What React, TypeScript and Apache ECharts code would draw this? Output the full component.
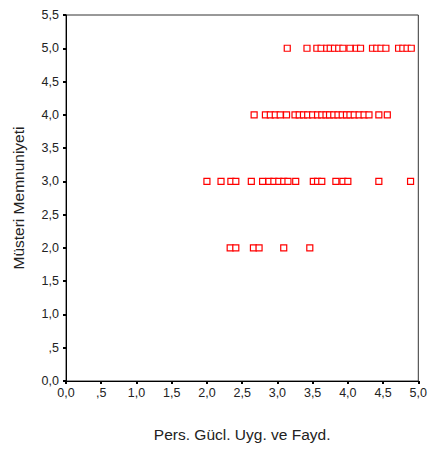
import React, { useEffect, useRef } from "react";
import * as echarts from "echarts";

// Pers. Gücl. Uyg. ve Fayd. values for each Müsteri Memnuniyeti level
const x5 = [3.14, 3.42, 3.56, 3.62, 3.70, 3.75, 3.81, 3.87, 3.93, 4.03, 4.12, 4.18, 4.35, 4.41, 4.47, 4.54, 4.72, 4.78, 4.84, 4.90];
const x4 = [2.67, 2.83, 2.90, 2.97, 3.04, 3.13, 3.25, 3.31, 3.37, 3.43, 3.50, 3.57, 3.63, 3.69, 3.74, 3.80, 3.86, 3.92, 3.98, 4.03, 4.09, 4.16, 4.23, 4.30, 4.44, 4.56];
const x3 = [2.00, 2.20, 2.34, 2.41, 2.63, 2.79, 2.88, 2.95, 3.02, 3.09, 3.15, 3.26, 3.51, 3.57, 3.63, 3.83, 3.93, 4.00, 4.44, 4.89];
const x2 = [2.33, 2.41, 2.66, 2.74, 3.09, 3.46];
const yLevels = [5, 4, 3, 2];
const xGroups = [x5, x4, x3, x2];

const xTitle = "Pers. Gücl. Uyg. ve Fayd.";
const yTitle = "Müsteri Memnuniyeti";

const fmt = (v: number) => {
  const s = v.toFixed(1).replace(".", ",");
  return s === "0,5" ? ",5" : s;
};

export default function App() {
  const ref = useRef<HTMLDivElement>(null);
  useEffect(() => {
    document.body.style.margin = "0";
    const chart = echarts.init(ref.current!, null, { renderer: "svg" });
    const data: number[][] = [];
    xGroups.forEach((g, i) => g.forEach((x) => data.push([x, yLevels[i]])));
    const font = "'Liberation Sans', Arial, sans-serif";
    chart.setOption({
      animation: false,
      backgroundColor: "#ffffff",
      grid: {
        left: 66,
        right: 6,
        top: 15,
        bottom: 70,
        show: true,
        borderColor: "#333",
        borderWidth: 1,
      },
      xAxis: {
        type: "value",
        min: 0,
        max: 5,
        interval: 0.5,
        name: xTitle,
        nameLocation: "middle",
        nameGap: 45,
        nameTextStyle: { fontFamily: font, fontSize: 15.5, color: "#222" },
        axisLine: { show: true, lineStyle: { color: "#000", width: 1 } },
        axisTick: { show: true, length: 3, lineStyle: { color: "#000", width: 2 } },
        axisLabel: { formatter: fmt, fontFamily: font, fontSize: 12.5, color: "#222", margin: 5 },
        splitLine: { show: false },
      },
      yAxis: {
        type: "value",
        min: 0,
        max: 5.5,
        interval: 0.5,
        name: yTitle,
        nameLocation: "middle",
        nameGap: 40,
        nameTextStyle: { fontFamily: font, fontSize: 15.5, color: "#222" },
        axisLine: { show: true, lineStyle: { color: "#000", width: 1 } },
        axisTick: { show: true, length: 3, lineStyle: { color: "#000", width: 2 } },
        axisLabel: { formatter: fmt, fontFamily: font, fontSize: 12.5, color: "#222", margin: 7 },
        splitLine: { show: false },
      },
      series: [
        {
          type: "scatter",
          data,
          symbol: "rect",
          symbolSize: 6,
          itemStyle: { color: "#ffffff", borderColor: "#ff0000", borderWidth: 1.2, opacity: 1 },
        },
      ],
    });
    return () => chart.dispose();
  }, []);
  return <div ref={ref} style={{ width: 430, height: 451 }} />;
}
